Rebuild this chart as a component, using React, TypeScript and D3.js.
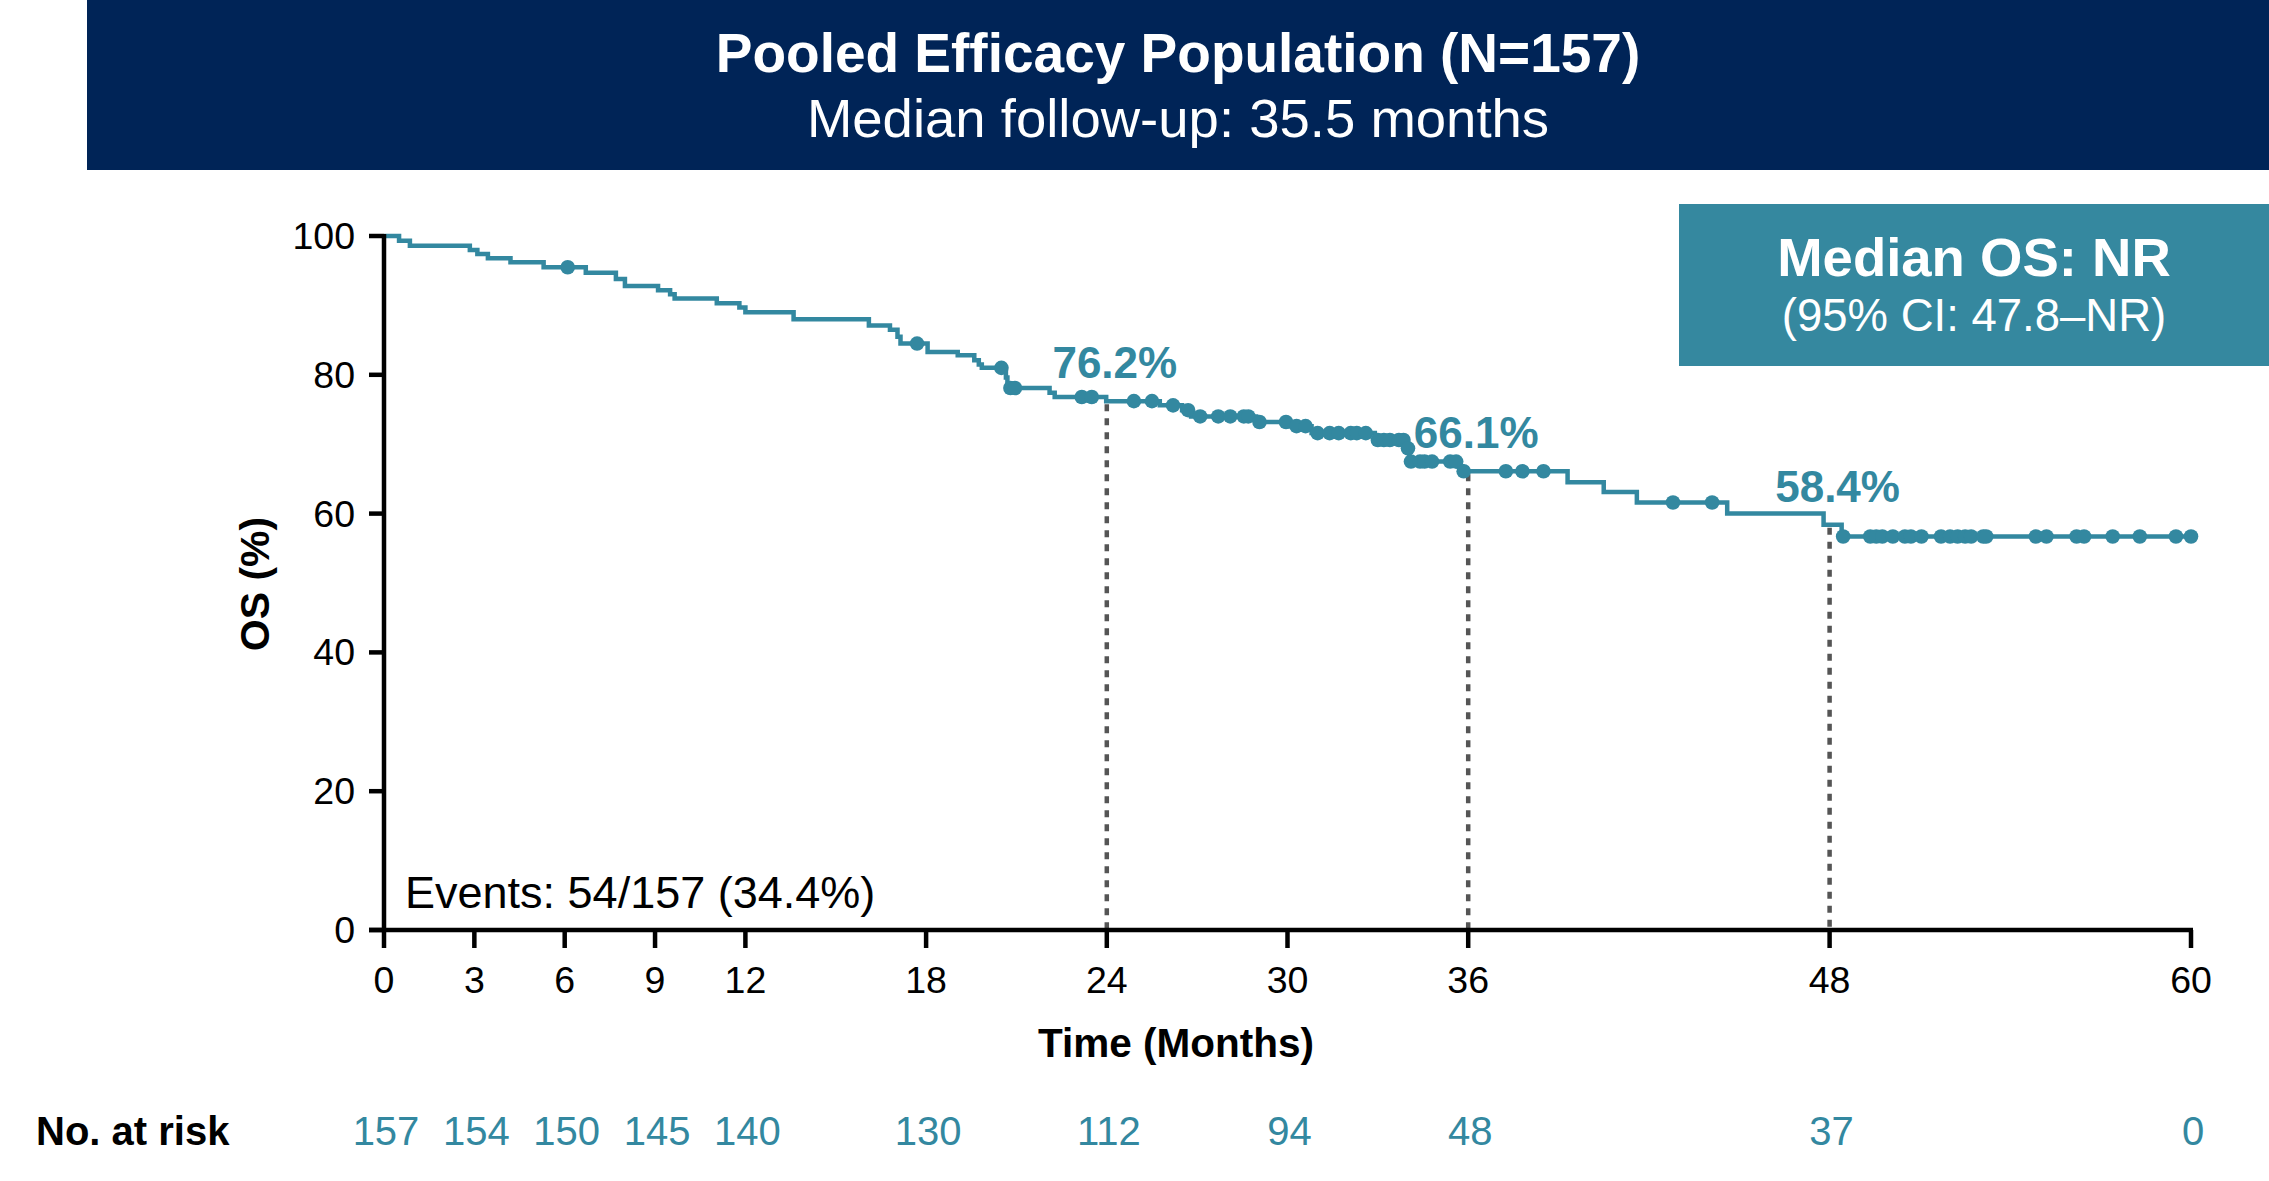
import React from "react";
import * as d3 from "d3";

// ---- Data ----
const stepTimes = [0, 0.5, 0.86, 2.85, 3.1, 3.45, 4.2, 5.3, 6.7, 7.7, 8.0, 9.1, 9.5, 9.65, 11.05, 11.8, 12.0, 13.6, 16.1, 16.8, 17.05, 17.15, 18.05, 19.05, 19.6, 19.75, 19.85, 20.65, 20.7, 22.1, 22.27, 23.98, 25.76, 26.5, 26.8, 28.96, 30.1, 30.8, 32.9, 33.94, 34.05, 35.65, 35.8, 39.3, 40.5, 41.6, 44.6, 47.8, 48.4];
const stepSurvival = [100, 99.3, 98.6, 98.0, 97.4, 96.8, 96.2, 95.5, 94.7, 93.8, 92.8, 92.2, 91.6, 91.0, 90.3, 89.7, 89.0, 88.0, 87.1, 86.5, 85.5, 84.5, 83.3, 82.8, 82.1, 81.5, 81.0, 79.6, 78.1, 77.4, 76.8, 76.2, 75.6, 74.9, 74.0, 73.2, 72.6, 71.6, 70.6, 69.4, 67.5, 66.8, 66.1, 64.5, 63.1, 61.6, 60.0, 58.4, 56.7];
const censorTimes = [6.1, 17.7, 20.5, 20.8, 20.95, 23.17, 23.5, 24.9, 25.5, 26.2, 26.7, 27.1, 27.7, 28.1, 28.55, 28.7, 29.07, 29.95, 30.3, 30.6, 31.0, 31.4, 31.7, 32.1, 32.3, 32.6, 33.0, 33.2, 33.4, 33.7, 33.85, 34.0, 34.1, 34.4, 34.55, 34.8, 35.4, 35.6, 35.85, 37.25, 37.8, 38.5, 42.8, 44.1, 48.45, 49.35, 49.55, 49.75, 50.1, 50.5, 50.7, 51.05, 51.7, 52.0, 52.25, 52.5, 52.7, 53.1, 53.2, 54.85, 55.2, 56.2, 56.45, 57.4, 58.3, 59.5, 60.0];
const xTicks = [0, 3, 6, 9, 12, 18, 24, 30, 36, 48, 60];
const yTicks = [0, 20, 40, 60, 80, 100];
const atRiskTimes = [0, 3, 6, 9, 12, 18, 24, 30, 36, 48, 60];
const atRiskCounts = [157, 154, 150, 145, 140, 130, 112, 94, 48, 37, 0];
const landmarkTimes = [24, 36, 48];
const landmarkLabels = ["76.2%", "66.1%", "58.4%"];
const landmarkValues = [76.2, 66.1, 58.4];

const TEAL = "#3388A0";
const NAVY = "#002457";
const FONT = "'Liberation Sans', Arial, Helvetica, sans-serif";

export default function App() {
  const W = 2269;
  const H = 1181;
  const x = d3.scaleLinear().domain([0, 60]).range([384, 2191]);
  const y = d3.scaleLinear().domain([0, 100]).range([930, 236]);

  const bis = d3.bisector((d: number) => d).right;
  const survAt = (t: number) => stepSurvival[Math.max(0, bis(stepTimes, t) - 1)];

  const pts: [number, number][] = stepTimes.map((t, i) => [t, stepSurvival[i]]);
  pts.push([60, stepSurvival[stepSurvival.length - 1]]);
  const line = d3
    .line<[number, number]>()
    .x((d) => x(d[0]))
    .y((d) => y(d[1]))
    .curve(d3.curveStepAfter);

  return (
    <svg
      width={W}
      height={H}
      viewBox={`0 0 ${W} ${H}`}
      style={{ position: "absolute", left: 0, top: 0, display: "block", background: "#fff" }}
      fontFamily={FONT}
    >
      {/* Header */}
      <rect x={87} y={0} width={W - 87} height={170} fill={NAVY} />
      <text x={1178} y={72} textAnchor="middle" fill="#fff" fontSize={55} fontWeight="bold">
        Pooled Efficacy Population (N=157)
      </text>
      <text x={1178} y={137} textAnchor="middle" fill="#fff" fontSize={54.5}>
        Median follow-up: 35.5 months
      </text>

      {/* Median OS box */}
      <rect x={1679} y={204} width={W - 1679} height={162} fill="#35889F" />
      <text x={1974} y={276} textAnchor="middle" fill="#fff" fontSize={54.5} fontWeight="bold">
        Median OS: NR
      </text>
      <text x={1974} y={331} textAnchor="middle" fill="#fff" fontSize={45.5}>
        (95% CI: 47.8–NR)
      </text>

      {/* Landmark dashed lines */}
      {landmarkTimes.map((t, i) => (
        <line
          key={"lm" + i}
          x1={x(t)}
          x2={x(t)}
          y1={y(survAt(t)) + 3}
          y2={y(0)}
          stroke="#555"
          strokeWidth={4.5}
          strokeDasharray="7 7"
        />
      ))}

      {/* KM curve */}
      <path d={line(pts) || ""} fill="none" stroke={TEAL} strokeWidth={4.5} />
      {censorTimes.map((t, i) => (
        <circle key={"c" + i} cx={x(t)} cy={y(survAt(t))} r={7.3} fill={TEAL} />
      ))}

      {/* Landmark labels */}
      {landmarkTimes.map((t, i) => (
        <text
          key={"ll" + i}
          x={x(t) + 8}
          y={y(landmarkValues[i]) - 23}
          textAnchor="middle"
          fill={TEAL}
          fontSize={44}
          fontWeight="bold"
        >
          {landmarkLabels[i]}
        </text>
      ))}

      {/* Axes */}
      <line x1={x(0)} x2={x(0)} y1={y(100) - 2} y2={y(0) + 2} stroke="#000" strokeWidth={4.5} />
      <line x1={x(0) - 15} x2={x(60) + 2} y1={y(0)} y2={y(0)} stroke="#000" strokeWidth={4.5} />
      {yTicks.map((v) => (
        <g key={"yt" + v}>
          <line x1={x(0) - 15} x2={x(0)} y1={y(v)} y2={y(v)} stroke="#000" strokeWidth={4.5} />
          <text x={355} y={y(v) + 13} textAnchor="end" fontSize={37.5} fill="#000">
            {v}
          </text>
        </g>
      ))}
      {xTicks.map((t) => (
        <g key={"xt" + t}>
          <line x1={x(t)} x2={x(t)} y1={y(0)} y2={y(0) + 18} stroke="#000" strokeWidth={4.5} />
          <text x={x(t)} y={993} textAnchor="middle" fontSize={37.5} fill="#000">
            {t}
          </text>
        </g>
      ))}

      <text x={1176} y={1057} textAnchor="middle" fontSize={40.5} fontWeight="bold" fill="#000">
        Time (Months)
      </text>
      <text
        transform={`translate(269, 584) rotate(-90)`}
        textAnchor="middle"
        fontSize={41}
        fontWeight="bold"
        fill="#000"
      >
        OS (%)
      </text>

      <text x={405} y={908} fontSize={45} fill="#000">
        Events: 54/157 (34.4%)
      </text>

      {/* At risk */}
      <text x={36} y={1145} fontSize={40} fontWeight="bold" fill="#000">
        No. at risk
      </text>
      {atRiskTimes.map((t, i) => (
        <text key={"ar" + i} x={x(t) + 2} y={1145} textAnchor="middle" fontSize={40} fill={TEAL}>
          {atRiskCounts[i]}
        </text>
      ))}
    </svg>
  );
}
